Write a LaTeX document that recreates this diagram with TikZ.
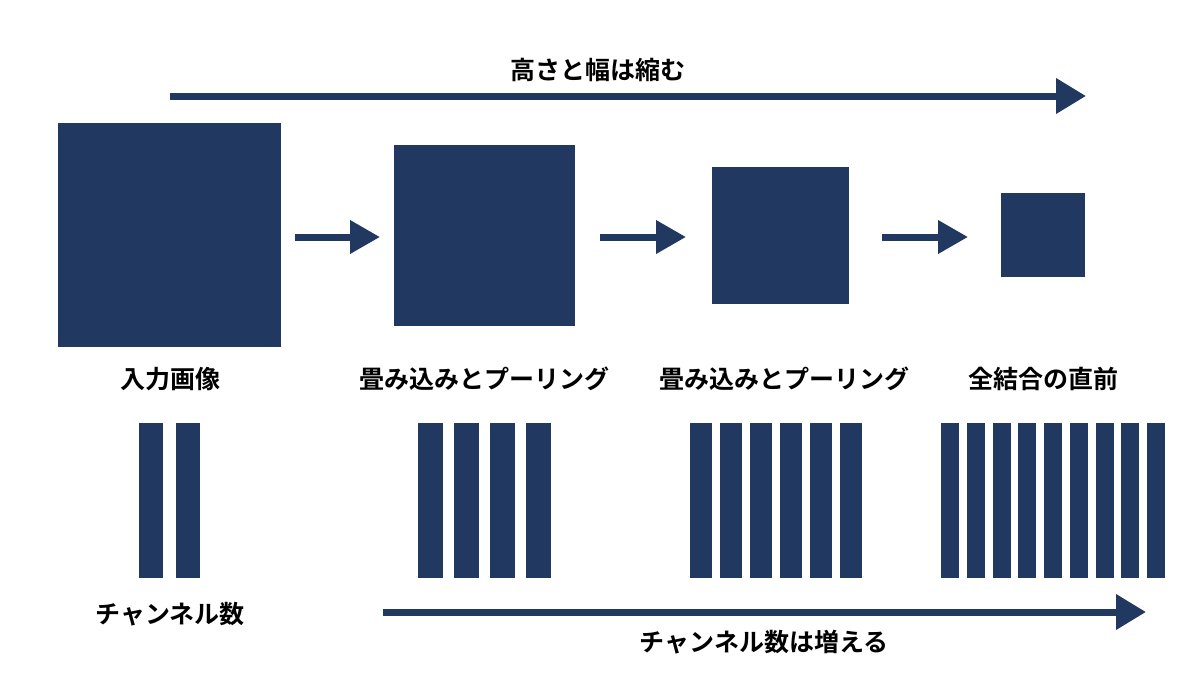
\documentclass[tikz,border=0pt]{standalone}
\usepackage{fontspec}
\newfontfamily\jp{Noto Sans CJK JP}[BoldFont={Noto Sans CJK JP Bold}]
\usetikzlibrary{arrows.meta}
\definecolor{navy}{RGB}{33,56,97}
\begin{document}
\begin{tikzpicture}[x=1pt,y=-1pt,
  blk/.style={fill=navy,draw=none},
  arr/.style={draw=navy,line width=7pt,-{Triangle[length=30pt,width=32pt]}},
  big/.style={draw=navy,line width=7pt,-{Triangle[length=30pt,width=34pt]}},
  lbl/.style={font=\jp\bfseries\fontsize{25}{28}\selectfont,text=black,inner sep=0pt}]
\useasboundingbox[fill=white] (0,0) rectangle (1200,675);
\fill[blk] (58,123) rectangle (281,347) coordinate (s1);
\fill[blk] (394,145) rectangle (575,326);
\fill[blk] (712,167) rectangle (849,304);
\fill[blk] (1001,193) rectangle (1085,277);
\coordinate (a1) at (295,237); \coordinate (b1) at (380,237);
\coordinate (a2) at (600,237); \coordinate (b2) at (686,237);
\coordinate (a3) at (882,237); \coordinate (b3) at (968,237);
\draw[arr] (a1) -- (b1); \draw[arr] (a2) -- (b2); \draw[arr] (a3) -- (b3);
\coordinate (t1) at (170,96); \coordinate (t2) at (1086,96);
\draw[big] (t1) -- (t2);
\coordinate (u1) at (383,612); \coordinate (u2) at (1146,612);
\draw[big] (u1) -- (u2);
\node[lbl] (top) at (598,70) {高さと幅は縮む};
\node[lbl] (l1) at (170,379) {入力画像};
\node[lbl] (l2) at (484,379) {畳み込みとプーリング};
\node[lbl] (l3) at (784,379) {畳み込みとプーリング};
\node[lbl] (l4) at (1043,379) {全結合の直前};
\node[lbl] (c1) at (170,614) {チャンネル数};
\node[lbl] (c2) at (764,642) {チャンネル数は増える};
\foreach \i in {0,1} \fill[blk] (139+37*\i,423) rectangle +(24,155);
\foreach \i in {0,...,3} \fill[blk] (418+36*\i,423) rectangle +(25,155);
\foreach \i in {0,...,5} \fill[blk] (690+30*\i,423) rectangle +(22,155);
\foreach \i in {0,...,8} \fill[blk] (941+25.75*\i,423) rectangle +(18,155);
\end{tikzpicture}
\end{document}
